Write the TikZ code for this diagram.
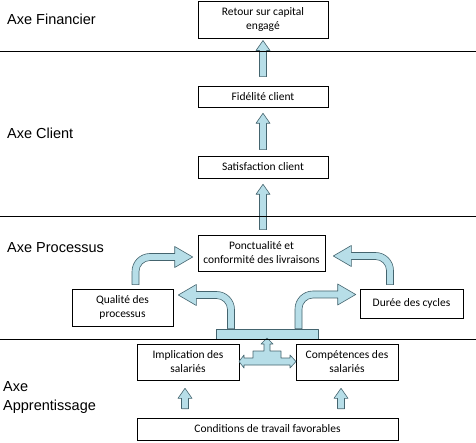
\documentclass[tikz,border=0pt]{standalone}
\usepackage{fontspec}
\setmainfont{Carlito}
\newfontfamily\arialfont{Liberation Sans}
\usetikzlibrary{calc}

\definecolor{arrowblue}{HTML}{B7DEE8}
\definecolor{arrowline}{HTML}{44646E}

% straight block arrow pointing up: #1 start (y only), #2 tip
\newcommand{\uparr}[2]{%
  \filldraw[blockarrow] let \p1=#1, \p2=#2 in
    ({\x2-3.5pt},{\y1}) -- ({\x2-3.5pt},{\y2-10pt}) -- ({\x2-7pt},{\y2-10pt}) -- (\x2,\y2)
    -- ({\x2+7pt},{\y2-10pt}) -- ({\x2+3.5pt},{\y2-10pt}) -- ({\x2+3.5pt},{\y1}) -- cycle;}

% bent block arrow: #1 start, #2 tip, #3 direction (1 right, -1 left)
\newcommand{\bentarr}[3]{%
  \filldraw[blockarrow] let \p1=#1, \p2=#2 in
    ({\x1-(#3)*3.5pt},{\y1}) -- ({\x1-(#3)*3.5pt},{\y2+3.5pt-18pt})
    .. controls ({\x1-(#3)*3.5pt},{\y2+3.5pt-8pt}) and ({\x1-(#3)*3.5pt+(#3)*8pt},{\y2+3.5pt})
    .. ({\x1-(#3)*3.5pt+(#3)*18pt},{\y2+3.5pt})
    -- ({\x2-(#3)*18pt},{\y2+3.5pt}) -- ({\x2-(#3)*18pt},{\y2+10.5pt}) -- (\x2,\y2)
    -- ({\x2-(#3)*18pt},{\y2-10.5pt}) -- ({\x2-(#3)*18pt},{\y2-3.5pt})
    -- ({\x1+(#3)*14.5pt},{\y2-3.5pt})
    .. controls ({\x1+(#3)*8.5pt},{\y2-3.5pt}) and ({\x1+(#3)*3.5pt},{\y2-8.5pt})
    .. ({\x1+(#3)*3.5pt},{\y2-14.5pt})
    -- ({\x1+(#3)*3.5pt},{\y1}) -- cycle;}

\begin{document}
\begin{tikzpicture}[x=1pt, y=-1pt,
    every node/.style={font=\fontsize{11.5}{14}\selectfont},
    box/.style={draw, fill=white, line width=0.6pt, align=center, inner sep=2pt},
    axe/.style={font=\arialfont\fontsize{14.5}{19}\selectfont, inner sep=0pt, align=left},
    axeline/.style={line width=0.7pt},
    blockarrow/.style={fill=arrowblue, draw=arrowline, line width=0.6pt, line join=round},
  ]
  \fill[white] (0,0) rectangle (476,443);
  \useasboundingbox (0,0) rectangle (476,443);

  % axis labels
  \node[axe, anchor=base west] (lfin) at (7,25) {Axe Financier};
  \node[axe, anchor=base west] (lcli) at (7,139) {Axe Client};
  \node[axe, anchor=base west] (lpro) at (7,253) {Axe Processus};
  \node[axe, anchor=west] (lapp) at (3,398) {Axe\\Apprentissage};

  % boxes
  \node[box, minimum width=130pt, minimum height=37pt] (ret)  at (263,19.75) {Retour sur capital\\engagé};
  \node[box, minimum width=130pt, minimum height=21pt] (fid)  at (263,96.5)  {Fidélité client};
  \node[box, minimum width=130pt, minimum height=22pt] (sat)  at (263,167)   {Satisfaction client};
  \node[box, minimum width=127pt, minimum height=36pt] (pon)  at (261.5,253) {Ponctualité et\\conformité des livraisons};
  \node[box, minimum width=101pt, minimum height=37pt] (qual) at (122.5,307.5) {Qualité des\\processus};
  \node[box, minimum width=103pt, minimum height=29pt] (dur)  at (411.5,303.5) {Durée des cycles};
  \node[box, minimum width=102pt, minimum height=36pt] (imp)  at (188,362)   {Implication des\\salariés};
  \node[box, minimum width=102pt, minimum height=36pt] (comp) at (347,362)   {Compétences des\\salariés};
  \node[box, minimum width=261pt, minimum height=22pt] (cond) at (267.5,429) {Conditions de travail favorables};
  \node[blockarrow, minimum width=102pt, minimum height=10pt, inner sep=0pt] (bar) at (267,334) {};

  % arrows
  \uparr{([yshift=9pt]fid.north)}{([yshift=-2pt]ret.south)}
  \uparr{([yshift=6pt]sat.north)}{([yshift=-6pt]fid.south)}
  \uparr{([yshift=5pt]pon.north)}{([yshift=-6pt]sat.south)}
  \uparr{([yshift=9pt]cond.north)}{([xshift=-3pt,yshift=-8pt]imp.south)}
  \uparr{([yshift=9pt]cond.north)}{([xshift=-6pt,yshift=-8pt]comp.south)}

  \bentarr{([xshift=13pt,yshift=4pt]qual.north)}{([xshift=-5pt,yshift=-4pt]pon.west)}{1}
  \bentarr{([xshift=-21.5pt,yshift=4pt]dur.north)}{([xshift=8pt,yshift=-3pt]pon.east)}{-1}
  \bentarr{([xshift=-36pt]bar.north)}{([xshift=5pt,yshift=12.5pt]qual.east)}{-1}
  \bentarr{([xshift=31.5pt]bar.north)}{([xshift=-4pt,yshift=9pt]dur.west)}{1}

  \filldraw[blockarrow] (267,338) -- (273,344) -- (270,344) -- (270,351) -- (281,351)
    -- (281,358) -- (290,358) -- (290,355) -- (296,361.5) -- (290,368) -- (290,365)
    -- (244,365) -- (244,368) -- (239,361.5) -- (244,355) -- (244,358) -- (253,358)
    -- (253,351) -- (264,351) -- (264,344) -- (261,344) -- cycle;

  % separating lines
  \draw[axeline] (0,51) -- (476,51);
  \draw[axeline] (0,216) -- (476,216);
  \draw[axeline] (0,339) -- (476,339);
\end{tikzpicture}
\end{document}
